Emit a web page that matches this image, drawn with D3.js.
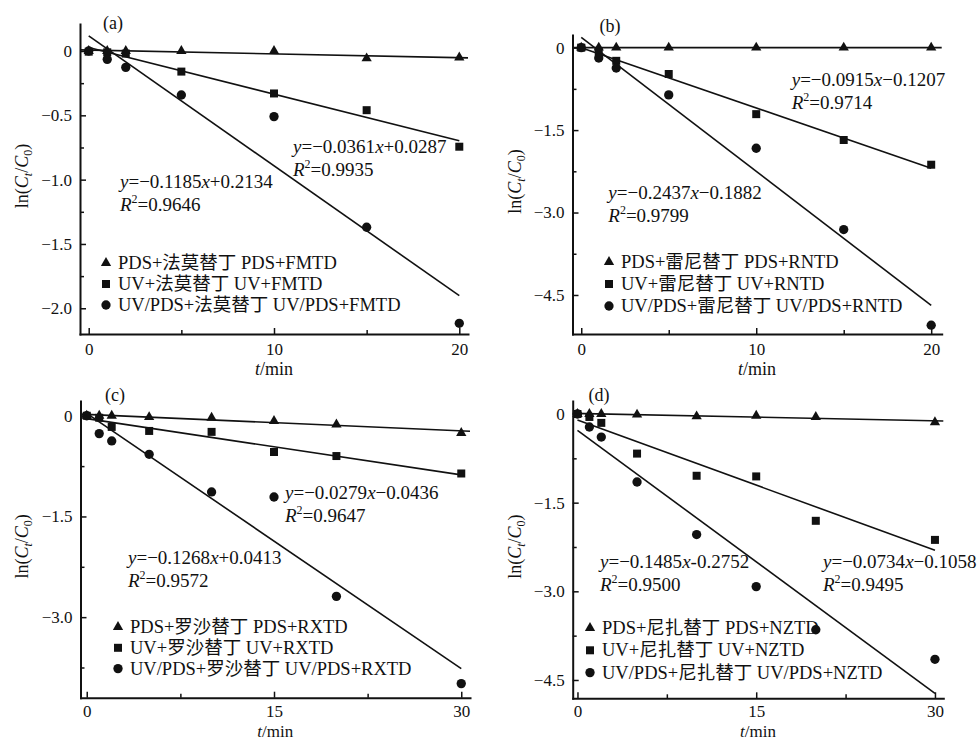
<!DOCTYPE html>
<html>
<head>
<meta charset="utf-8">
<script src="https://cdn.jsdelivr.net/npm/d3@7"></script>
<style>
  body { margin: 0; background: #fff; }
  svg { display: block; font-family: "Liberation Serif", "Times New Roman", "Noto Sans CJK SC", serif; }
</style>
</head>
<body>
<svg id="chart" width="980" height="741"></svg>
<script>
// ---- data: ln(Ct/C0) versus reaction time (min) ----
const tAB = [0, 1, 2, 5, 10, 15, 20];
const tCD = [0, 1, 2, 5, 10, 15, 20, 30];

// (a) famotidine
const pdsA   = [0, 0, 0, 0, 0, -0.057, -0.05];
const uvA    = [-0.005, -0.01, -0.02, -0.16, -0.33, -0.46, -0.744];
const uvpdsA = [0, -0.065, -0.127, -0.342, -0.51, -1.37, -2.117];

// (b) ranitidine
const pdsB   = [0, 0, 0, 0, 0, 0, 0];
const uvB    = [0, -0.08, -0.24, -0.48, -1.21, -1.68, -2.13];
const uvpdsB = [0, -0.19, -0.37, -0.86, -1.83, -3.31, -5.05];

// (c) roxatidine
const pdsC   = [0, 0, 0, -0.02, -0.03, -0.077, -0.13, -0.256];
const uvC    = [0, -0.03, -0.166, -0.226, -0.24, -0.54, -0.6, -0.86];
const uvpdsC = [0, -0.266, -0.375, -0.574, -1.135, -1.21, -2.69, -3.99];

// (d) nizatidine
const pdsD   = [0, 0, 0, -0.01, -0.04, -0.03, -0.05, -0.14];
const uvD    = [0, -0.05, -0.15, -0.67, -1.045, -1.056, -1.807, -2.13];
const uvpdsD = [0, -0.22, -0.39, -1.15, -2.04, -2.92, -3.65, -4.15];

// tick values
const xTicks20 = [0, 10, 20], xMinor20 = [5, 15];
const xTicks30 = [0, 15, 30], xMinor30 = [7.5, 22.5];
const yTicksA = [0, -0.5, -1.0, -1.5, -2.0], yMinorA = [-0.25, -0.75, -1.25, -1.75];
const yTicksB = [0, -1.5, -3.0, -4.5], yMinorB = [-0.75, -2.25, -3.75];
const yTicksC = [0, -1.5, -3.0], yMinorC = [-0.75, -2.25, -3.75];
const yTicksD = [0, -1.5, -3.0, -4.5], yMinorD = [-0.75, -2.25, -3.75];

// legend / annotation texts
const treatments = ["PDS+", "UV+", "UV/PDS+"];
const drugsCn = ["法莫替丁", "雷尼替丁", "罗沙替丁", "尼扎替丁"];
const drugsEn = ["FMTD", "RNTD", "RXTD", "NZTD"];
const panelLabels = ["(a)", "(b)", "(c)", "(d)"];
const eqA = [["y=−0.0361x+0.0287", "0.9935"], ["y=−0.1185x+0.2134", "0.9646"]];
const eqB = [["y=−0.0915x−0.1207", "0.9714"], ["y=−0.2437x−0.1882", "0.9799"]];
const eqC = [["y=−0.0279x−0.0436", "0.9647"], ["y=−0.1268x+0.0413", "0.9572"]];
const eqD = [["y=−0.1485x-0.2752", "0.9500"], ["y=−0.0734x−0.1058", "0.9495"]];

// ---- layout for the four panels ----
const panels = [
  { t: tAB, series: [pdsA, uvA, uvpdsA], xDomain: [-0.47, 20.47], yDomain: [-2.2, 0.21],
    xTicks: xTicks20, xMinor: xMinor20, yTicks: yTicksA, yMinor: yMinorA, eq: eqA,
    box: { l: 80, t: 24, r: 468, b: 334 }, label: [113, 29],
    eqPos: [[293, 153], [120, 188]], legend: [106, 263, 21], yTitleX: 22 },
  { t: tAB, series: [pdsB, uvB, uvpdsB], xDomain: [-0.5, 20.6], yDomain: [-5.21, 0.23],
    xTicks: xTicks20, xMinor: xMinor20, yTicks: yTicksB, yMinor: yMinorB, eq: eqB,
    box: { l: 572.5, t: 35, r: 941.7, b: 334 }, label: [610, 32],
    eqPos: [[791.7, 86], [608.3, 199]], legend: [609, 262, 22], yTitleX: 515 },
  { t: tCD, series: [pdsC, uvC, uvpdsC], xDomain: [-0.5, 30.7], yDomain: [-4.2, 0.22],
    xTicks: xTicks30, xMinor: xMinor30, yTicks: yTicksC, yMinor: yMinorC, eq: eqC,
    box: { l: 80.5, t: 401, r: 470, b: 697.7 }, label: [115, 401],
    eqPos: [[285, 499], [128, 564]], legend: [118, 627, 20.8], yTitleX: 22 },
  { t: tCD, series: [pdsD, uvD, uvpdsD], xDomain: [-0.4, 30.7], yDomain: [-4.81, 0.22],
    xTicks: xTicks30, xMinor: xMinor30, yTicks: yTicksD, yMinor: yMinorD, eq: eqD,
    box: { l: 572.7, t: 401, r: 943.3, b: 698.3 }, label: [599, 401],
    eqPos: [[600, 568], [823, 568]], legend: [590, 628, 22.3], yTitleX: 515 }
];

const ink = "#111";
const symbolTypes = [d3.symbolTriangle, d3.symbolSquare, d3.symbolCircle];
const symbolSizes = [46, 64, 68];
const svg = d3.select("#chart");

// least-squares line through a series
function fit(xs, ys) {
  const mx = d3.mean(xs), my = d3.mean(ys);
  let sxy = 0, sxx = 0;
  xs.forEach((xv, i) => { sxy += (xv - mx) * (ys[i] - my); sxx += (xv - mx) ** 2; });
  const k = sxy / sxx;
  return { k, b: my - k * mx };
}

// equation text with italic x / y
function writeEquation(sel, str) {
  str.split(/([xy])/).forEach(part => {
    if (!part) return;
    const ts = sel.append("tspan").text(part);
    if (part === "x" || part === "y") ts.attr("font-style", "italic");
  });
}

function writeR2(sel, val) {
  sel.append("tspan").attr("font-style", "italic").text("R");
  sel.append("tspan").attr("font-size", 12).attr("dy", -8).text("2");
  sel.append("tspan").attr("dy", 8).text("=" + val);
}

const yFmt = d => d === 0 ? "0" : d3.format(".1f")(d);

panels.forEach((p, pi) => {
  const g = svg.append("g");
  const x = d3.scaleLinear().domain(p.xDomain).range([p.box.l, p.box.r]);
  const y = d3.scaleLinear().domain(p.yDomain).range([p.box.b, p.box.t]);
  const lowRow = p.box.b > 600;

  // regression lines
  p.series.forEach((vals, si) => {
    const f = fit(p.t, vals);
    const x0 = si === 0 ? p.xDomain[0] : 0;
    const x1 = si === 0 ? p.xDomain[1] : d3.max(p.t);
    g.append("line")
      .attr("x1", x(x0)).attr("y1", y(f.b + f.k * x0))
      .attr("x2", x(x1)).attr("y2", y(f.b + f.k * x1))
      .attr("stroke", ink).attr("stroke-width", 1.6);
  });

  // data markers
  p.series.forEach((vals, si) => {
    const sym = d3.symbol().type(symbolTypes[si]).size(symbolSizes[si]);
    g.selectAll(null).data(vals).join("path")
      .attr("d", sym)
      .attr("transform", (v, i) => `translate(${x(p.t[i])},${y(v)})`)
      .attr("fill", ink);
  });

  // axes (ticks point inward)
  const xAxis = g.append("g").attr("transform", `translate(0,${p.box.b})`)
    .call(d3.axisBottom(x).tickValues(p.xTicks).tickSizeInner(-6).tickSizeOuter(0)
      .tickPadding(lowRow ? 7 : 9).tickFormat(d3.format("d")));
  const xMinorAxis = g.append("g").attr("transform", `translate(0,${p.box.b})`)
    .call(d3.axisBottom(x).tickValues(p.xMinor).tickSizeInner(-4).tickSizeOuter(0).tickFormat(""));
  const yAxis = g.append("g").attr("transform", `translate(${p.box.l},0)`)
    .call(d3.axisLeft(y).tickValues(p.yTicks).tickSizeInner(-6).tickSizeOuter(0)
      .tickPadding(8).tickFormat(yFmt));
  const yMinorAxis = g.append("g").attr("transform", `translate(${p.box.l},0)`)
    .call(d3.axisLeft(y).tickValues(p.yMinor).tickSizeInner(-4).tickSizeOuter(0).tickFormat(""));

  [xMinorAxis, yMinorAxis].forEach(a => a.select(".domain").remove());
  [xAxis, yAxis, xMinorAxis, yMinorAxis].forEach(a => {
    a.attr("font-family", null).attr("font-size", 17);
    a.selectAll("line").attr("stroke", ink).attr("stroke-width", 1.5);
    a.selectAll("text").attr("fill", ink);
    a.select(".domain").attr("stroke", ink).attr("stroke-width", 2).attr("stroke-linecap", "square");
  });

  // axis titles (bottom row kept inside the 741 px frame)
  g.append("text")
    .attr("x", (p.box.l + p.box.r) / 2).attr("y", lowRow ? 737 : p.box.b + 41)
    .attr("text-anchor", "middle").attr("font-size", lowRow ? 17 : 18).attr("fill", ink)
    .call(s => {
      s.append("tspan").attr("font-style", "italic").text("t");
      s.append("tspan").text("/min");
    });

  const cy = (p.box.t + p.box.b) / 2 - 3;
  g.append("text")
    .attr("transform", `translate(${p.yTitleX + 6},${cy}) rotate(-90)`)
    .attr("text-anchor", "middle").attr("font-size", 18).attr("fill", ink)
    .call(s => {
      s.append("tspan").text("ln(");
      s.append("tspan").attr("font-style", "italic").text("C");
      s.append("tspan").attr("font-style", "italic").attr("font-size", 12).attr("dy", 4).text("t");
      s.append("tspan").attr("dy", -4).text("/");
      s.append("tspan").attr("font-style", "italic").text("C");
      s.append("tspan").attr("font-size", 12).attr("dy", 4).text("0");
      s.append("tspan").attr("dy", -4).text(")");
    });

  // panel label
  g.append("text").attr("x", p.label[0]).attr("y", p.label[1])
    .attr("text-anchor", "middle").attr("font-size", 18).attr("fill", ink)
    .text(panelLabels[pi]);

  // fitted equations
  p.eq.forEach((e, ei) => {
    const [ex, ey] = p.eqPos[ei];
    g.append("text").attr("x", ex).attr("y", ey).attr("font-size", 19).attr("fill", ink)
      .call(s => writeEquation(s, e[0]));
    g.append("text").attr("x", ex).attr("y", ey + 23).attr("font-size", 19).attr("fill", ink)
      .call(s => writeR2(s, e[1]));
  });

  // legend
  const [lx, ly, ldy] = p.legend;
  treatments.forEach((tr, si) => {
    const yy = ly + si * ldy;
    g.append("path")
      .attr("d", d3.symbol().type(symbolTypes[si]).size(symbolSizes[si])())
      .attr("transform", `translate(${lx},${yy})`).attr("fill", ink);
    g.append("text").attr("x", lx + 12).attr("y", yy + 6)
      .attr("font-size", 18.5).attr("fill", ink)
      .text(`${tr}${drugsCn[pi]} ${tr}${drugsEn[pi]}`);
  });
});
</script>
</body>
</html>
